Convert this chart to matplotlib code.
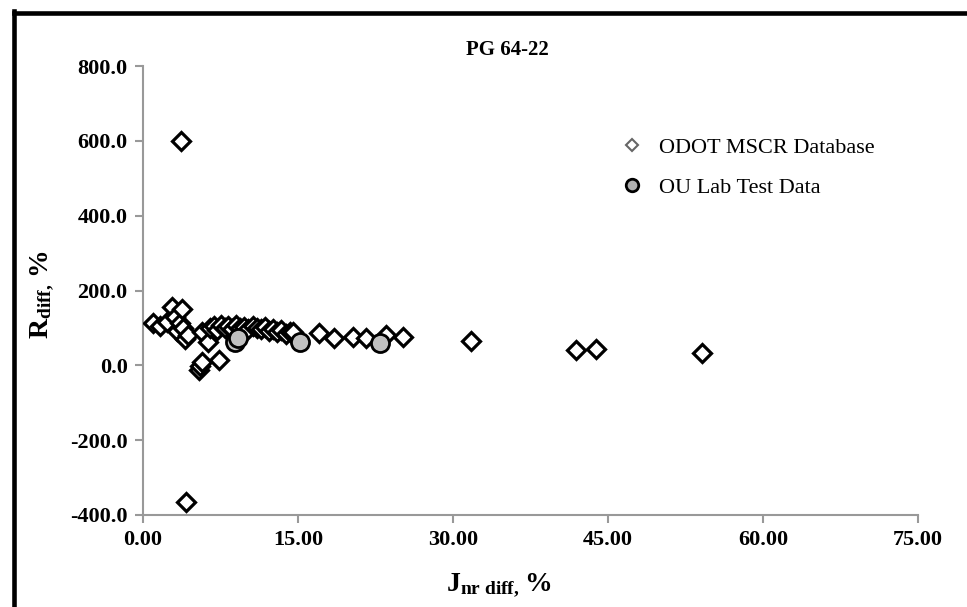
import matplotlib
matplotlib.use('Agg')
import matplotlib.pyplot as plt
from matplotlib.lines import Line2D

# ODOT MSCR database points (Jnr diff %, R diff %)
odot_jnr = [1.0, 1.6, 2.3, 2.8, 3.1, 3.3, 3.6, 3.75, 3.7, 3.9, 4.1, 4.4, 4.2,
            5.4, 5.5, 5.7, 5.7, 6.3, 7.4,
            6.5, 6.9, 7.2, 7.5, 7.9, 8.2, 8.6, 9.0, 9.4, 9.8, 10.2, 10.6, 11.0,
            11.4, 11.8, 12.2, 12.6, 13.0, 13.4, 13.8, 14.2, 14.5,
            17.0, 18.5, 20.3, 21.6, 23.5, 25.2, 31.7, 41.9, 43.8, 54.1]
odot_r = [112, 105, 117, 155, 130, 92, 112, 150, 600, 100, 70, 82, -365,
          -12, -3, 10, 88, 63, 14,
          100, 105, 95, 108, 100, 104, 96, 108, 100, 103, 97, 106, 100,
          96, 102, 92, 98, 88, 95, 85, 90, 88,
          87, 74, 77, 74, 82, 77, 66, 41, 44, 32]

# OU lab test data
ou_jnr = [8.9, 9.2, 15.2, 22.9]
ou_r = [63, 72, 63, 59]

xticks = [0, 15, 30, 45, 60, 75]
yticks = [-400, -200, 0, 200, 400, 600, 800]

plt.rcParams['font.family'] = ['Liberation Serif', 'DejaVu Serif']
plt.rcParams['mathtext.fontset'] = 'custom'
plt.rcParams['mathtext.rm'] = 'Liberation Serif'
plt.rcParams['mathtext.bf'] = 'Liberation Serif:bold'
plt.rcParams['mathtext.it'] = 'Liberation Serif:italic'

fig = plt.figure(figsize=(9.67, 6.07), dpi=100)
ax = fig.add_axes([143/967, 1-515/607, 775/967, 449/607])

ax.plot(odot_jnr, odot_r, linestyle='none', marker='D', ms=9,
        mfc='white', mec='black', mew=2.3, zorder=3)
ax.plot(ou_jnr, ou_r, linestyle='none', marker='o', ms=13,
        mfc='#c0c0c0', mec='black', mew=2.0, zorder=4)

ax.set_xlim(0, 75)
ax.set_ylim(-400, 800)
ax.set_xticks(xticks)
ax.set_yticks(yticks)
ax.set_xticklabels([f'{v:.2f}' for v in xticks], fontsize=16, fontweight='bold')
ax.set_yticklabels([f'{v:.1f}' for v in yticks], fontsize=16, fontweight='bold')

for side in ['top', 'right']:
    ax.spines[side].set_visible(False)
for side in ['left', 'bottom']:
    ax.spines[side].set_color('#999999')
    ax.spines[side].set_linewidth(1.5)
ax.tick_params(direction='out', length=6, width=1.5, color='#999999', pad=5)

ax.set_title('PG 64-22', fontsize=15, fontweight='bold', pad=8, x=0.47)

ax.set_xlabel(r'$\mathbf{J_{nr\ diff,}}\,\mathbf{\%}$', fontsize=20)
ax.xaxis.set_label_coords(0.46, -0.125)
ax.set_ylabel(r'$\mathbf{R_{diff,}}\,\mathbf{\%}$', fontsize=20)
ax.yaxis.set_label_coords(-0.112, 0.49)

handles = [
    Line2D([], [], linestyle='none', marker='D', ms=6, mfc='white', mec='#666666', mew=1.5),
    Line2D([], [], linestyle='none', marker='o', ms=9, mfc='#b0b0b0', mec='black', mew=2.0),
]
ax.legend(handles, ['ODOT MSCR Database', 'OU Lab Test Data'], loc='upper left',
          bbox_to_anchor=(599/967, 1-117/607), bbox_transform=fig.transFigure,
          frameon=False, fontsize=16, labelspacing=0.9, handletextpad=0.6,
          handlelength=1.2)

# black outer frame (left and top edges visible)
fig.add_artist(Line2D([14/967, 14/967], [0, 1-10.5/607], color='black', lw=3.3,
                      transform=fig.transFigure, solid_capstyle='projecting'))
fig.add_artist(Line2D([14/967, 1], [1-13/607, 1-13/607], color='black', lw=3.3,
                      transform=fig.transFigure, solid_capstyle='projecting'))

fig.savefig('out.png', dpi=100)
